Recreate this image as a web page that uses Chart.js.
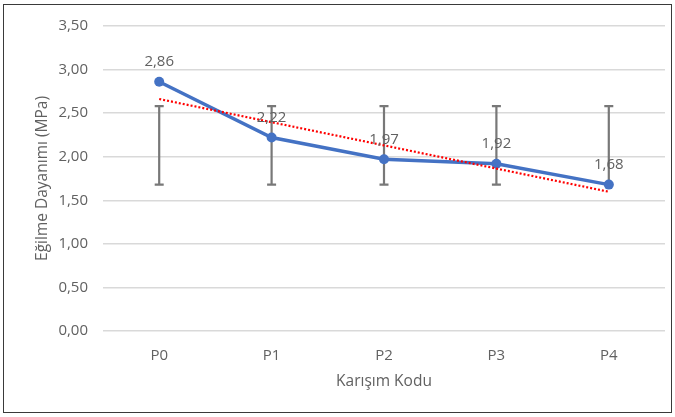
<!DOCTYPE html>
<html>
<head>
<meta charset="utf-8">
<script src="https://cdn.jsdelivr.net/npm/chart.js@4"></script>
<style>
  html, body { margin: 0; padding: 0; background: #fff; }
  #wrap { position: relative; width: 675px; height: 417px; }
  #frame { position: absolute; left: 3px; top: 4px; width: 667px; height: 407px; border: 1.5px solid #3a3a3a; pointer-events: none; }
</style>
</head>
<body>
<div id="wrap">
  <canvas id="myChart" width="675" height="417"></canvas>
  <div id="frame"></div>
</div>
<script>
// karışım kodları ve eğilme dayanımı değerleri
const labels = ["P0", "P1", "P2", "P3", "P4"];
const strength = [2.86, 2.22, 1.97, 1.92, 1.68];
// hata çubukları (alt / üst uç)
const errLow = [1.68, 1.68, 1.68, 1.68, 1.68];
const errHigh = [2.58, 2.58, 2.58, 2.58, 2.58];
// y ekseni
const yMin = 0, yMax = 3.5, yStep = 0.5;

const fmt = v => v.toFixed(2).replace(".", ",");

// doğrusal eğilim çizgisi (en küçük kareler)
const n = strength.length;
const mx = (n - 1) / 2;
const my = strength.reduce((a, b) => a + b, 0) / n;
let sxy = 0, sxx = 0;
strength.forEach((y, i) => { sxy += (i - mx) * (y - my); sxx += (i - mx) * (i - mx); });
const slope = sxy / sxx;
const trend = strength.map((_, i) => my + slope * (i - mx));

const FONT = "'Open Sans', 'Noto Sans', sans-serif";
const GREY = "#616161";

// hata çubuklarını çiz
const errorBars = {
  id: "errorBars",
  beforeDatasetsDraw(chart) {
    const ctx = chart.ctx;
    const x = chart.scales.x, y = chart.scales.y;
    ctx.save();
    ctx.strokeStyle = "#787878";
    ctx.lineWidth = 2.2;
    labels.forEach((_, i) => {
      const px = x.getPixelForValue(i);
      const top = y.getPixelForValue(errHigh[i]);
      const bot = y.getPixelForValue(errLow[i]);
      ctx.beginPath();
      ctx.moveTo(px, top); ctx.lineTo(px, bot);
      ctx.moveTo(px - 4.5, top); ctx.lineTo(px + 4.5, top);
      ctx.moveTo(px - 4.5, bot); ctx.lineTo(px + 4.5, bot);
      ctx.stroke();
    });
    ctx.restore();
  }
};

// değer etiketleri
const valueLabels = {
  id: "valueLabels",
  afterDatasetsDraw(chart) {
    const ctx = chart.ctx;
    const meta = chart.getDatasetMeta(1);
    ctx.save();
    ctx.font = "15px " + FONT;
    ctx.fillStyle = GREY;
    ctx.textAlign = "center";
    ctx.textBaseline = "middle";
    meta.data.forEach((pt, i) => {
      ctx.fillText(fmt(strength[i]), pt.x, pt.y - 20);
    });
    ctx.restore();
  }
};

const ctx = document.getElementById("myChart").getContext("2d");
const myChart = new Chart(ctx, {
  type: "line",
  data: {
    labels: labels,
    datasets: [
      {
        label: "Doğrusal",
        data: trend,
        borderColor: "#ff0000",
        borderWidth: 2.2,
        borderDash: [2, 2],
        pointRadius: 0,
        fill: false,
        order: 0
      },
      {
        label: "Eğilme Dayanımı",
        data: strength,
        borderColor: "#4472c4",
        backgroundColor: "#4472c4",
        borderWidth: 3.5,
        pointRadius: 5,
        pointBorderWidth: 0,
        fill: false,
        order: 1
      }
    ]
  },
  options: {
    responsive: false,
    animation: false,
    layout: { padding: { left: 30, right: 10, top: 26, bottom: 26 } },
    plugins: {
      legend: { display: false },
      tooltip: { enabled: false }
    },
    scales: {
      x: {
        offset: true,
        grid: { display: false },
        border: { display: false },
        ticks: { color: GREY, padding: 8, font: { family: FONT, size: 15 } },
        title: {
          display: true, text: "Karışım Kodu", color: GREY,
          font: { family: FONT, size: 15.5 }, padding: { top: 0, bottom: 0 }
        },
        afterFit(scale) { scale.height = 60; }
      },
      y: {
        min: yMin, max: yMax,
        grid: { color: "#d9d9d9", lineWidth: 1.5, drawTicks: false },
        border: { display: false },
        ticks: {
          stepSize: yStep, color: GREY, padding: 15,
          font: { family: FONT, size: 15 },
          callback: v => fmt(v)
        },
        title: {
          display: true, text: "Eğilme Dayanımı (MPa)", color: GREY,
          font: { family: FONT, size: 15.5 }, padding: { top: 3.5, bottom: 0 }
        },
        afterFit(scale) { scale.width = 73; }
      }
    }
  },
  plugins: [errorBars, valueLabels]
});
</script>
</body>
</html>
